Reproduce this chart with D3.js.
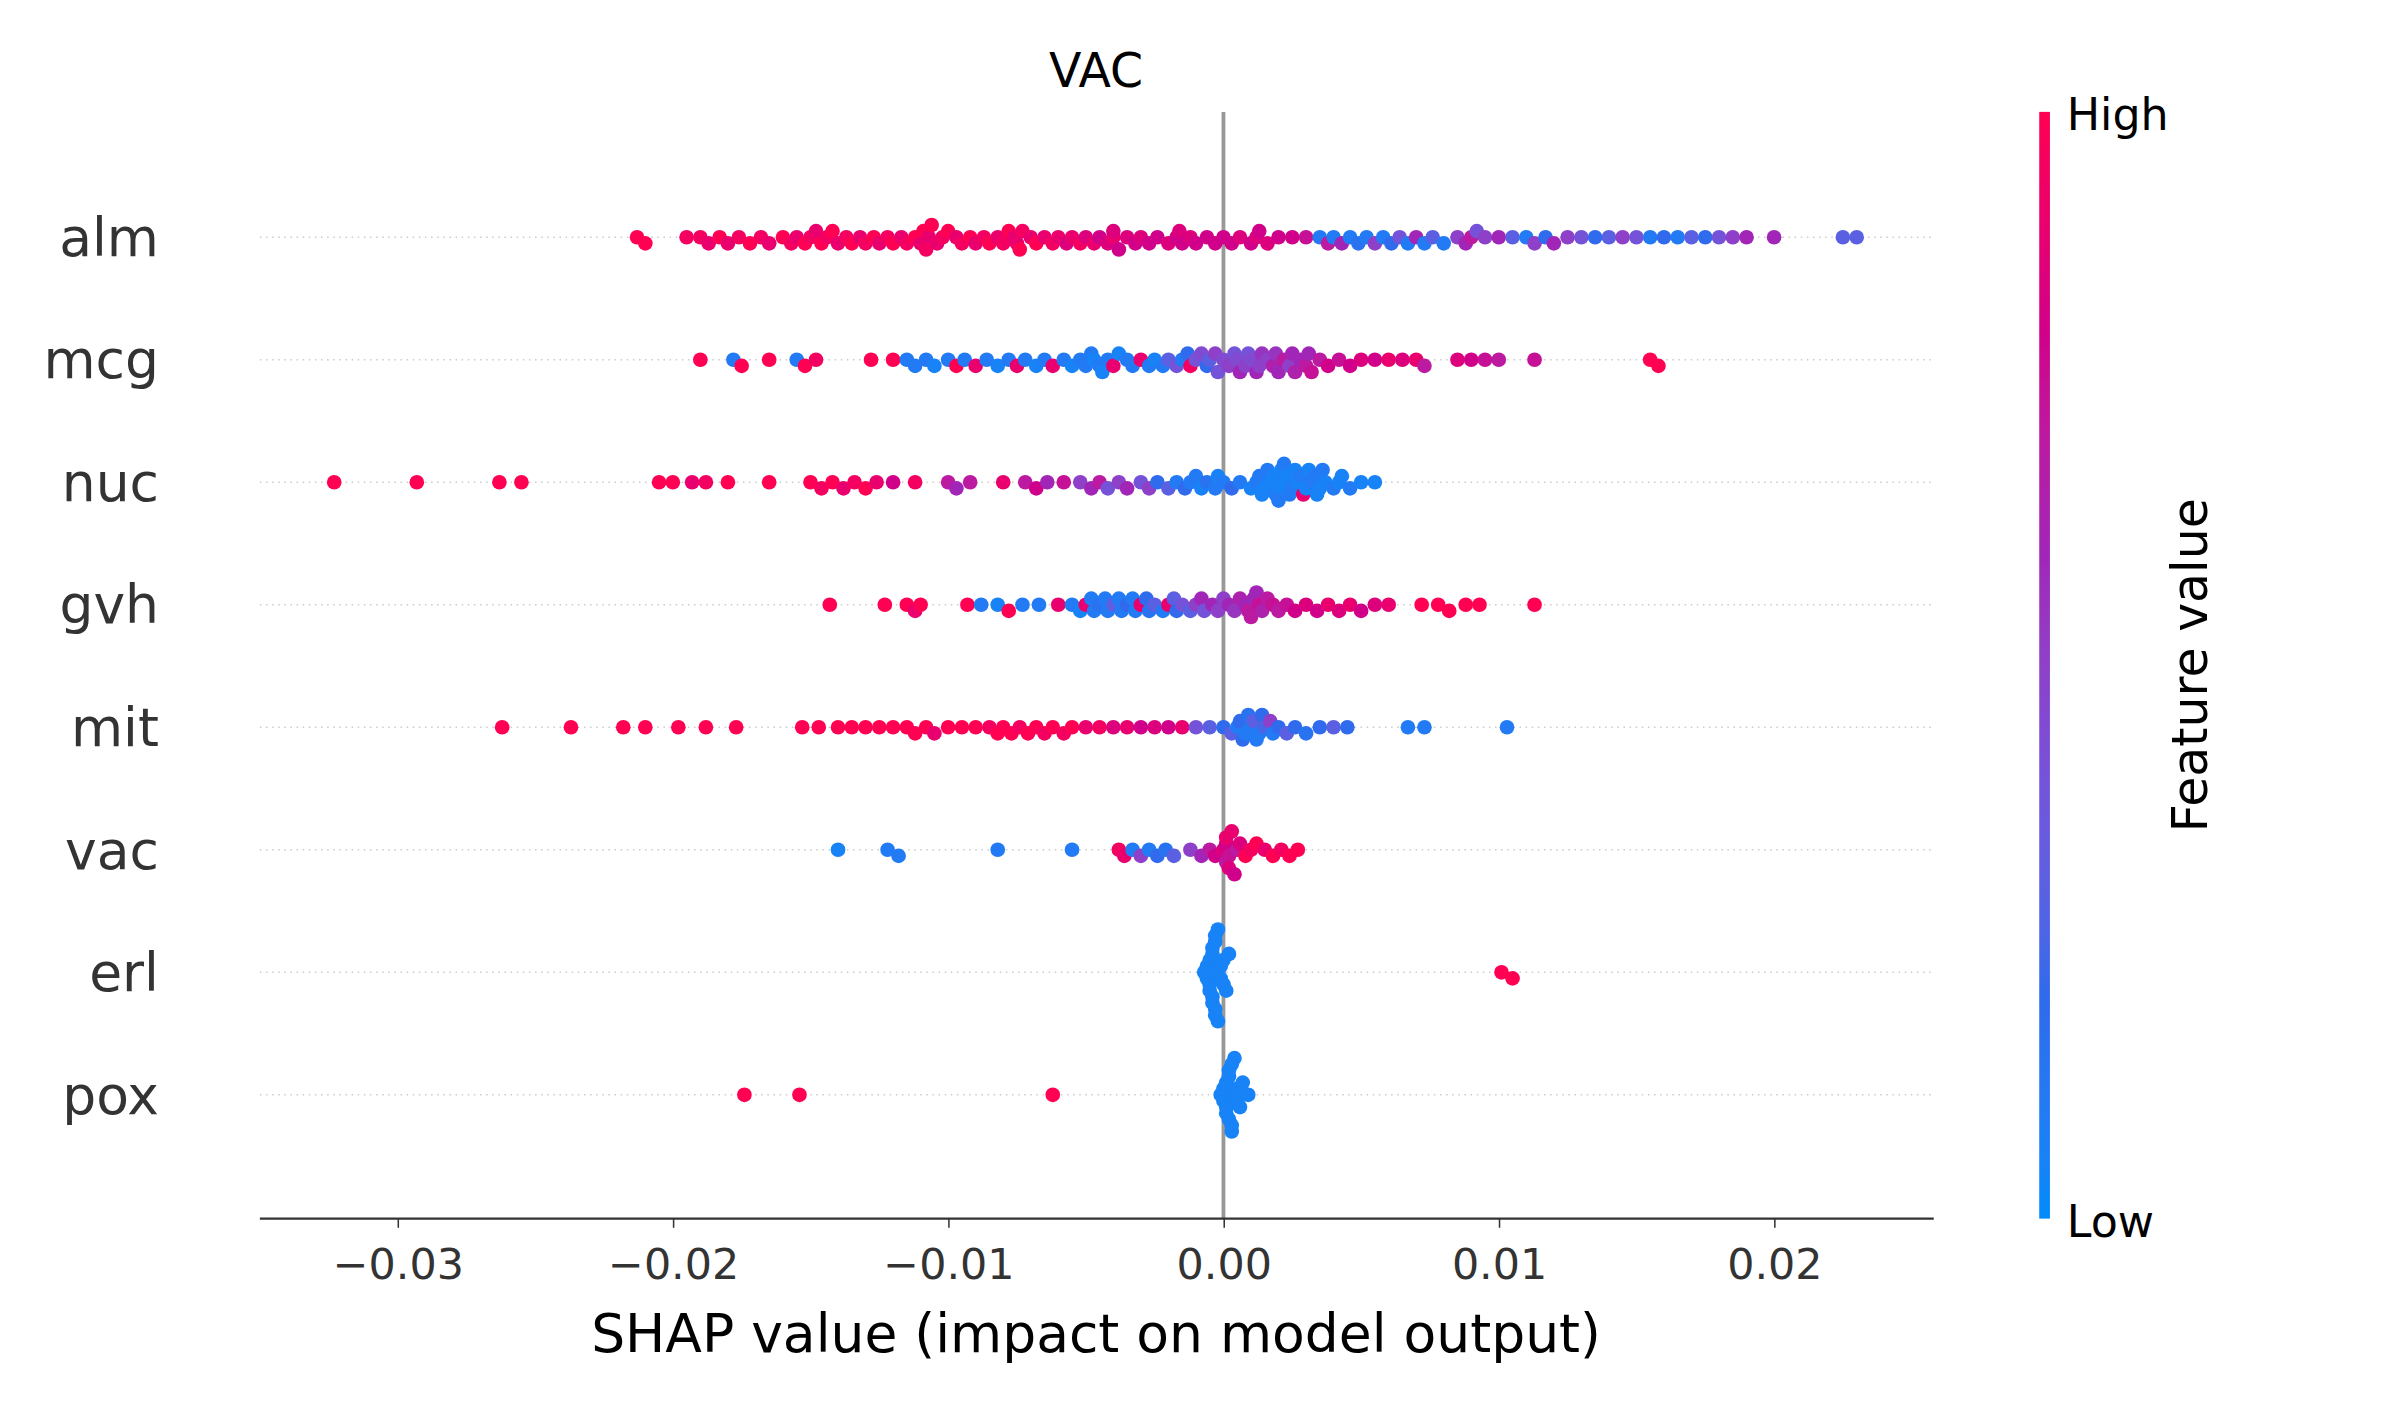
<!DOCTYPE html>
<html><head><meta charset="utf-8">
<script src="https://cdn.jsdelivr.net/npm/d3@7"></script>
<style>body{margin:0;background:#fff}svg{display:block}text{font-family:"DejaVu Sans",sans-serif;fill:#333}</style>
</head><body>
<svg id="chart" width="2400" height="1410" viewBox="0 0 1570 922"></svg>
<script>
'use strict';
// [shap value, normalised feature value]
const features = ["alm", "mcg", "nuc", "gvh", "mit", "vac", "erl", "pox"];
const xTicks = [-0.03, -0.02, -0.01, 0, 0.01, 0.02];

const alm = [[-0.0213,1],[-0.0210,1],[-0.0195,.95],[-0.0190,.95],[-0.0187,.9],[-0.0183,1],[-0.0180,.9],[-0.0176,.95],[-0.0172,1],[-0.0168,.95],[-0.0165,.9],[-0.0160,1],[-0.0157,.95],[-0.0155,.9],[-0.0152,1],[-0.0150,.95],[-0.0148,.9],[-0.0146,1],[-0.0144,.95],[-0.0142,1],[-0.0140,.9],[-0.0137,.95],[-0.0135,1],[-0.0132,.9],[-0.0130,.95],[-0.0127,1],[-0.0125,.9],[-0.0122,.95],[-0.0120,1],[-0.0117,.9],[-0.0115,.95],[-0.0112,1],[-0.0110,.9],[-0.0109,1],[-0.0108,.95],[-0.0107,.9],[-0.0106,1],[-0.0104,.9],[-0.0102,.95],[-0.0100,1],[-0.0097,.9],[-0.0095,.95],[-0.0092,1],[-0.0090,.9],[-0.0087,.95],[-0.0085,1],[-0.0082,.9],[-0.0080,.95],[-0.0078,1],[-0.0076,.9],[-0.0075,.9],[-0.0074,1],[-0.0073,.95],[-0.0070,.9],[-0.0068,1],[-0.0065,.9],[-0.0062,.95],[-0.0060,.9],[-0.0057,.85],[-0.0055,.9],[-0.0052,.95],[-0.0050,.85],[-0.0047,.9],[-0.0045,.8],[-0.0042,.85],[-0.0040,.9],[-0.0040,.85],[-0.0038,.8],[-0.0035,.85],[-0.0032,.8],[-0.0030,.85],[-0.0027,.8],[-0.0024,.8],[-0.0020,.85],[-0.0017,.8],[-0.0016,.85],[-0.0015,.8],[-0.0012,.85],[-0.0010,.8],[-0.0006,.8],[-0.0003,.8],[0.0000,.8],[0.0003,.8],[0.0006,.85],[0.0010,.8],[0.0012,.85],[0.0013,.8],[0.0016,.85],[0.0020,.8],[0.0025,.8],[0.0030,.75],[0.0035,.1],[0.0038,.7],[0.0040,.1],[0.0043,.6],[0.0046,.1],[0.0049,.15],[0.0052,.1],[0.0055,.5],[0.0058,.1],[0.0061,.2],[0.0064,.4],[0.0067,.1],[0.0070,.6],[0.0073,.1],[0.0076,.3],[0.0080,.1],[0.0085,.5],[0.0088,.6],[0.0090,.7],[0.0092,.4],[0.0095,.5],[0.0100,.6],[0.0105,.3],[0.0110,.1],[0.0113,.5],[0.0117,.2],[0.0120,.6],[0.0125,.5],[0.0130,.4],[0.0135,.2],[0.0140,.3],[0.0145,.5],[0.0150,.4],[0.0155,.1],[0.0160,.2],[0.0165,.1],[0.0170,.3],[0.0175,.2],[0.0180,.4],[0.0185,.5],[0.0190,.6],[0.0200,.6],[0.0225,.3],[0.0230,.3]];
const mcg = [[-0.0190,1],[-0.0178,.1],[-0.0175,1],[-0.0165,1],[-0.0155,.1],[-0.0152,1],[-0.0148,.95],[-0.0128,1],[-0.0120,1],[-0.0115,.1],[-0.0112,.1],[-0.0108,.1],[-0.0105,.05],[-0.0100,.1],[-0.0097,1],[-0.0094,.1],[-0.0090,.9],[-0.0086,.1],[-0.0082,.05],[-0.0078,.1],[-0.0075,.9],[-0.0072,.1],[-0.0068,.05],[-0.0065,.1],[-0.0062,.9],[-0.0058,.1],[-0.0055,.05],[-0.0052,.1],[-0.0050,.1],[-0.0048,.1],[-0.0047,.05],[-0.0045,.1],[-0.0044,.05],[-0.0042,.1],[-0.0040,.9],[-0.0038,.05],[-0.0035,.1],[-0.0033,.1],[-0.0030,.9],[-0.0027,.1],[-0.0025,.05],[-0.0022,.1],[-0.0020,.3],[-0.0017,.4],[-0.0015,.1],[-0.0013,.2],[-0.0012,.95],[-0.0010,.4],[-0.0008,.45],[-0.0006,.2],[-0.0005,.3],[-0.0003,.5],[-0.0002,.4],[0,.45],[0.0002,.5],[0.0004,.4],[0.0005,.45],[0.0006,.6],[0.0008,.5],[0.0009,.4],[0.0010,.45],[0.0012,.6],[0.0013,.5],[0.0014,.55],[0.0016,.5],[0.0018,.65],[0.0019,.55],[0.0020,.6],[0.0022,.7],[0.0024,.5],[0.0025,.6],[0.0026,.65],[0.0028,.6],[0.0030,.7],[0.0031,.6],[0.0032,.75],[0.0035,.7],[0.0038,.8],[0.0042,.75],[0.0046,.8],[0.0050,.85],[0.0055,.8],[0.0060,.9],[0.0065,.85],[0.0070,.9],[0.0073,.7],[0.0085,.85],[0.0090,.8],[0.0095,.75],[0.0100,.7],[0.0113,.75],[0.0155,1],[0.0158,1]];
const nuc = [[-0.0323,1],[-0.0293,1],[-0.0263,1],[-0.0255,1],[-0.0205,1],[-0.0200,1],[-0.0193,.9],[-0.0188,.95],[-0.0180,1],[-0.0165,1],[-0.0150,1],[-0.0146,.95],[-0.0142,1],[-0.0138,.9],[-0.0134,.95],[-0.0130,1],[-0.0126,.9],[-0.0120,.8],[-0.0112,.95],[-0.0100,.7],[-0.0097,.6],[-0.0092,.7],[-0.0080,.9],[-0.0072,.7],[-0.0068,.8],[-0.0064,.6],[-0.0058,.75],[-0.0052,.5],[-0.0048,.6],[-0.0045,.7],[-0.0042,.4],[-0.0038,.5],[-0.0035,.6],[-0.0030,.4],[-0.0027,.5],[-0.0024,.2],[-0.0020,.3],[-0.0017,.1],[-0.0014,.2],[-0.0012,.1],[-0.0010,.1],[-0.0008,.05],[-0.0006,.15],[-0.0003,.1],[-0.0002,.05],[0,.1],[0.0003,.2],[0.0006,.1],[0.0010,.05],[0.0012,.1],[0.0013,.1],[0.0014,.05],[0.0015,.05],[0.0016,.1],[0.0017,.05],[0.0018,.05],[0.0019,.1],[0.0020,.05],[0.0020,.1],[0.0021,.05],[0.0022,.05],[0.0022,.1],[0.0023,.05],[0.0024,.1],[0.0025,.1],[0.0026,.05],[0.0027,.05],[0.0028,.1],[0.0029,.9],[0.0030,.05],[0.0031,.05],[0.0032,.1],[0.0033,.1],[0.0034,.05],[0.0035,.05],[0.0036,.1],[0.0037,.05],[0.0040,.1],[0.0042,.05],[0.0043,.05],[0.0046,.1],[0.0050,.05],[0.0055,.05]];
const gvh = [[-0.0143,1],[-0.0123,1],[-0.0115,1],[-0.0112,.9],[-0.0110,1],[-0.0093,1],[-0.0088,.1],[-0.0082,.05],[-0.0078,1],[-0.0073,.1],[-0.0067,.1],[-0.0060,.9],[-0.0055,.1],[-0.0052,.05],[-0.0050,.9],[-0.0048,.1],[-0.0047,.1],[-0.0045,.15],[-0.0043,.1],[-0.0042,.1],[-0.0040,.3],[-0.0038,.1],[-0.0037,.1],[-0.0035,.2],[-0.0033,.1],[-0.0032,.1],[-0.0030,.9],[-0.0028,.2],[-0.0027,.15],[-0.0025,.3],[-0.0022,.1],[-0.0020,.9],[-0.0018,.3],[-0.0017,.2],[-0.0015,.4],[-0.0012,.3],[-0.0010,.5],[-0.0008,.6],[-0.0007,.4],[-0.0004,.6],[-0.0002,.5],[0,.5],[0.0002,.6],[0.0004,.55],[0.0006,.65],[0.0008,.6],[0.0009,.7],[0.0010,.7],[0.0011,.6],[0.0012,.6],[0.0013,.75],[0.0014,.65],[0.0016,.7],[0.0018,.75],[0.0020,.7],[0.0023,.75],[0.0026,.8],[0.0030,.85],[0.0034,.8],[0.0038,.9],[0.0042,.85],[0.0046,.9],[0.0050,.8],[0.0055,.85],[0.0060,.9],[0.0072,1],[0.0078,1],[0.0082,1],[0.0088,1],[0.0093,1],[0.0113,1]];
const mit = [[-0.0262,1],[-0.0237,1],[-0.0218,1],[-0.0210,1],[-0.0198,1],[-0.0188,1],[-0.0177,1],[-0.0153,1],[-0.0147,1],[-0.0140,1],[-0.0135,1],[-0.0130,1],[-0.0125,1],[-0.0120,1],[-0.0115,1],[-0.0112,1],[-0.0108,1],[-0.0105,.9],[-0.0100,1],[-0.0095,1],[-0.0090,1],[-0.0085,.95],[-0.0082,1],[-0.0080,1],[-0.0077,1],[-0.0074,.95],[-0.0071,1],[-0.0068,1],[-0.0065,.95],[-0.0062,1],[-0.0058,.95],[-0.0055,1],[-0.0050,.9],[-0.0045,.95],[-0.0040,.85],[-0.0035,.9],[-0.0030,.8],[-0.0025,.85],[-0.0020,.8],[-0.0015,.9],[-0.0010,.4],[-0.0005,.3],[0,.2],[0.0003,.3],[0.0005,.1],[0.0006,.2],[0.0007,.2],[0.0008,.1],[0.0009,.15],[0.0010,.1],[0.0011,.3],[0.0012,.1],[0.0013,.1],[0.0014,.2],[0.0015,.25],[0.0017,.5],[0.0018,.1],[0.0020,.2],[0.0023,.3],[0.0026,.2],[0.0030,.15],[0.0035,.2],[0.0040,.3],[0.0045,.2],[0.0067,.1],[0.0073,.1],[0.0103,.1]];
const vac = [[-0.0140,.05],[-0.0122,.1],[-0.0118,.1],[-0.0082,.1],[-0.0055,.1],[-0.0038,.95],[-0.0036,.9],[-0.0033,.1],[-0.0030,.5],[-0.0027,.1],[-0.0024,.2],[-0.0021,.15],[-0.0018,.3],[-0.0012,.5],[-0.0008,.6],[-0.0005,.7],[-0.0003,.8],[0,.85],[0.0001,.8],[0.0001,.7],[0.0001,.9],[0.0002,.75],[0.0002,.85],[0.0003,.9],[0.0004,.8],[0.0005,.7],[0.0006,.85],[0.0008,1],[0.0010,.95],[0.0012,1],[0.0015,.9],[0.0018,1],[0.0021,.95],[0.0024,1],[0.0027,1]];
const erl = [[-0.0007,.05],[-0.0006,.05],[-0.0006,.05],[-0.0005,.05],[-0.0005,.05],[-0.0005,.05],[-0.0004,.05],[-0.0004,.05],[-0.0004,.05],[-0.0004,.05],[-0.0003,.05],[-0.0003,.05],[-0.0003,.05],[-0.0003,.05],[-0.0002,.05],[-0.0002,.05],[-0.0002,.05],[-0.0001,.05],[-0.0001,.05],[0.0000,.05],[0.0000,.05],[0.0001,.05],[0.0002,.05],[0.0101,1],[0.0105,1]];
const pox = [[-0.0174,1],[-0.0154,1],[-0.0062,1],[-0.0001,.05],[0.0000,.05],[0.0000,.05],[0.0001,.05],[0.0001,.05],[0.0001,.05],[0.0002,.05],[0.0002,.05],[0.0002,.05],[0.0003,.05],[0.0003,.05],[0.0003,.05],[0.0004,.05],[0.0004,.05],[0.0005,.05],[0.0005,.05],[0.0006,.05],[0.0007,.05],[0.0009,.05]];
const rows = [alm, mcg, nuc, gvh, mit, vac, erl, pox];

const svg = d3.select("#chart");
const x = d3.scaleLinear().domain([-0.035, 0.0258]).range([170, 1265]);
const y = d3.scalePoint().domain(features).range([155, 716]);
const color = d3.scaleLinear().domain([0, 0.2, 0.4, 0.6, 0.8, 1])
  .range(["#008bfb", "#2f6bec", "#7553d9", "#a126b8", "#d1008a", "#ff0052"]).interpolate(d3.interpolateLab);

// grid lines
svg.append("g").selectAll("line").data(features).join("line")
  .attr("x1", 170).attr("x2", 1265)
  .attr("y1", d => y(d)).attr("y2", d => y(d))
  .attr("stroke", "#ccc").attr("stroke-width", 1).attr("stroke-dasharray", "1,3");

svg.append("line").attr("x1", x(0)).attr("x2", x(0)).attr("y1", 73).attr("y2", 797)
  .attr("stroke", "#999").attr("stroke-width", 2.5);

// simple swarm layout, dots may overlap a bit like shap does
function swarm(pts) {
  const placed = [];
  const sorted = pts.map(p => ({v: p[0], c: p[1], px: x(p[0])})).sort((a, b) => a.v - b.v);
  sorted.forEach(p => {
    for (let k = 0; k < 40; k++) {
      const off = (k % 2 ? 1 : -1) * Math.ceil(k / 2) * 4;
      const hit = placed.some(q => Math.abs(q.px - p.px) < 8 && Math.abs(q.off - off) < 4);
      if (!hit) { p.off = off; break; }
    }
    placed.push(p);
  });
  return placed;
}

rows.forEach((pts, i) => {
  const cy = y(features[i]);
  svg.append("g").selectAll("circle").data(swarm(pts)).join("circle")
    .attr("cx", d => d.px).attr("cy", d => cy + d.off).attr("r", 4.8)
    .attr("fill", d => color(d.c));
});

// feature labels
svg.append("g").selectAll("text").data(features).join("text")
  .attr("x", 104).attr("y", d => y(d)).attr("dy", "0.35em")
  .attr("text-anchor", "end").attr("font-size", 35).text(d => d);

// x axis
const ax = svg.append("g").attr("transform", "translate(0,797)")
  .call(d3.axisBottom(x).tickValues(xTicks).tickSize(6).tickFormat(d => d3.format(".2f")(d).replace("-", "\u2212")));
ax.select(".domain").attr("stroke", "#333").attr("stroke-width", 1.5).attr("d", "M170,0H1265");
ax.selectAll(".tick line").attr("stroke", "#333");
ax.selectAll("text").attr("font-size", 28).attr("dy", "1.1em").style("fill", "#333");

svg.append("text").attr("x", 717).attr("y", 884).attr("text-anchor", "middle")
  .attr("font-size", 35).style("fill", "#000").text("SHAP value (impact on model output)");
svg.append("text").attr("x", 717).attr("y", 57).attr("text-anchor", "middle")
  .attr("font-size", 31).style("fill", "#000").text("VAC");

// colour bar
const defs = svg.append("defs");
const grad = defs.append("linearGradient").attr("id", "cb").attr("x1", 0).attr("x2", 0).attr("y1", 1).attr("y2", 0);
d3.range(0, 1.01, 0.05).forEach(t => grad.append("stop").attr("offset", t).attr("stop-color", color(t)));
svg.append("rect").attr("x", 1334).attr("y", 73).attr("width", 7).attr("height", 724).attr("fill", "url(#cb)");
svg.append("text").attr("x", 1352).attr("y", 85).attr("font-size", 29).style("fill", "#000").text("High");
svg.append("text").attr("x", 1352).attr("y", 809).attr("font-size", 29).style("fill", "#000").text("Low");
svg.append("text").attr("transform", "translate(1444,435) rotate(-90)").attr("text-anchor", "middle")
  .attr("font-size", 32).style("fill", "#000").text("Feature value");
</script>
</body></html>
